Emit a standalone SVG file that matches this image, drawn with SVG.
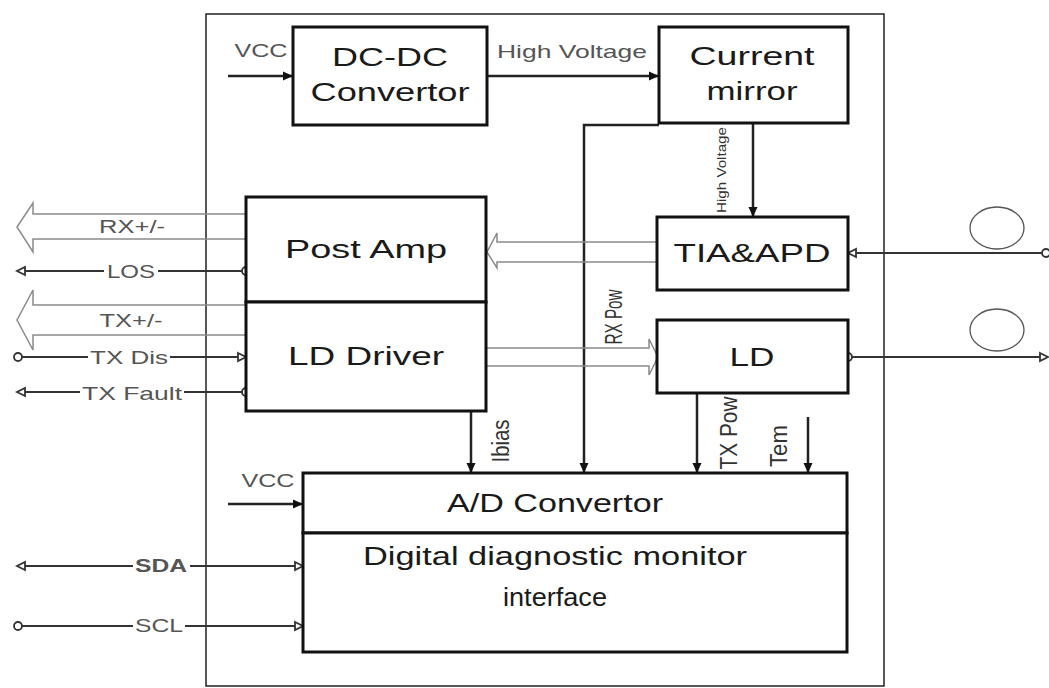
<svg xmlns="http://www.w3.org/2000/svg" width="1049" height="688" viewBox="0 0 1049 688">
<style>
.box{fill:#fff;stroke:#111;stroke-width:3}
.frame{fill:none;stroke:#222;stroke-width:1.5}
.w{stroke:#222;stroke-width:2.5;fill:none}
.s{stroke:#333;stroke-width:1.8;fill:none}
.h{stroke:#8a8a8a;stroke-width:1.5;fill:none}
.t{font-family:"Liberation Sans",Arial,sans-serif;fill:#1a1a1a;font-size:26px;text-anchor:middle}
.l{font-family:"Liberation Sans",Arial,sans-serif;fill:#555;font-size:19px;text-anchor:middle}
.v{font-family:"Liberation Sans",Arial,sans-serif;fill:#333;text-anchor:middle}
</style>
<defs>
<marker id="arr" markerUnits="userSpaceOnUse" markerWidth="11" markerHeight="10" refX="10" refY="5" orient="auto"><path d="M0,0.5 L10,5 L0,9.5 z" fill="#111"/></marker>
<marker id="otri" markerUnits="userSpaceOnUse" markerWidth="12" markerHeight="12" refX="10" refY="6" orient="auto-start-reverse"><path d="M2,2 L10,6 L2,10 z" fill="#fff" stroke="#333" stroke-width="1.8"/></marker>
<marker id="dot" markerUnits="userSpaceOnUse" markerWidth="12" markerHeight="12" refX="6" refY="6" orient="auto"><circle cx="6" cy="6" r="4" fill="#fff" stroke="#333" stroke-width="1.8"/></marker>
</defs>

<rect id="frame" class="frame" x="206" y="14" width="678" height="672"/>

<g id="connectors">
  <!-- top -->
  <line class="w" x1="228" y1="76" x2="293" y2="76" marker-end="url(#arr)"/>
  <line class="w" x1="487" y1="76" x2="659" y2="76" marker-end="url(#arr)"/>
  <polyline class="w" points="659,125 584,125 584,473" marker-end="url(#arr)"/>
  <line class="w" x1="753" y1="123" x2="753" y2="217" marker-end="url(#arr)"/>
  <!-- down to A/D -->
  <line class="w" x1="471" y1="411" x2="471" y2="473" marker-end="url(#arr)"/>
  <line class="w" x1="697" y1="393" x2="697" y2="473" marker-end="url(#arr)"/>
  <line class="w" x1="808" y1="417" x2="808" y2="473" marker-end="url(#arr)"/>
  <line class="w" x1="228" y1="504" x2="303" y2="504" marker-end="url(#arr)"/>
  <!-- hollow bus arrows -->
  <polyline class="h" points="246,214 33,214 33,203 17,227 33,252 33,239 246,239"/>
  <polyline class="h" points="246,305 33,305 33,290 17,320 33,350 33,335 246,335"/>
  <polyline class="h" points="657,242 497,242 497,233 487,252 497,268 497,262 657,262"/>
  <polyline class="h" points="486,348 649,348 649,339 658,357 649,375 649,366 486,366"/>
  <!-- left signals (broken around labels) -->
  <line class="s" x1="246" y1="271" x2="158" y2="271" marker-start="url(#dot)"/>
  <line class="s" x1="104" y1="271" x2="17" y2="271" marker-end="url(#otri)"/>
  <line class="s" x1="18" y1="357" x2="88" y2="357" marker-start="url(#dot)"/>
  <line class="s" x1="170" y1="357" x2="246" y2="357" marker-end="url(#otri)"/>
  <line class="s" x1="246" y1="392" x2="184" y2="392" marker-start="url(#dot)"/>
  <line class="s" x1="80" y1="392" x2="17" y2="392" marker-end="url(#otri)"/>
  <line class="s" x1="133" y1="566" x2="17" y2="566" marker-end="url(#otri)"/>
  <line class="s" x1="190" y1="566" x2="303" y2="566" marker-end="url(#otri)"/>
  <line class="s" x1="18" y1="626" x2="133" y2="626" marker-start="url(#dot)"/>
  <line class="s" x1="185" y1="626" x2="303" y2="626" marker-end="url(#otri)"/>
  <!-- right signals -->
  <line class="s" x1="1046" y1="253" x2="848" y2="253" marker-start="url(#dot)" marker-end="url(#otri)"/>
  <line class="s" x1="848" y1="357" x2="1048" y2="357" marker-start="url(#dot)" marker-end="url(#otri)"/>
  <!-- labels -->
  <text class="l" x="261" y="57" font-size="14" textLength="53" lengthAdjust="spacingAndGlyphs">VCC</text>
  <text class="l" x="572" y="58" font-size="16" textLength="150" lengthAdjust="spacingAndGlyphs">High Voltage</text>
  <text class="v" font-size="13" transform="translate(726,170) rotate(-90)" textLength="86" lengthAdjust="spacingAndGlyphs">High Voltage</text>
  <text class="v" font-size="24" fill="#444" transform="translate(622,317) rotate(-90)" textLength="55" lengthAdjust="spacingAndGlyphs">RX Pow</text>
  <text class="v" font-size="23" fill="#444" transform="translate(509,441) rotate(-90)" textLength="43" lengthAdjust="spacingAndGlyphs">Ibias</text>
  <text class="v" font-size="24" fill="#444" transform="translate(737,433) rotate(-90)" textLength="73" lengthAdjust="spacingAndGlyphs">TX Pow</text>
  <text class="v" font-size="24" fill="#444" transform="translate(787,446) rotate(-90)" textLength="42" lengthAdjust="spacingAndGlyphs">Tem</text>
  <text class="l" x="132" y="233" font-size="18" textLength="66" lengthAdjust="spacingAndGlyphs">RX+/-</text>
  <text class="l" x="131" y="278" textLength="48" lengthAdjust="spacingAndGlyphs">LOS</text>
  <text class="l" x="131" y="327" font-size="18" textLength="63" lengthAdjust="spacingAndGlyphs">TX+/-</text>
  <text class="l" x="129" y="364" textLength="78" lengthAdjust="spacingAndGlyphs">TX Dis</text>
  <text class="l" x="132" y="400" textLength="100" lengthAdjust="spacingAndGlyphs">TX Fault</text>
  <text class="l" x="268" y="487" font-size="14" textLength="53" lengthAdjust="spacingAndGlyphs">VCC</text>
  <text class="l" x="161" y="572" font-size="17" font-weight="bold" fill="#333" textLength="52" lengthAdjust="spacingAndGlyphs">SDA</text>
  <text class="l" x="159" y="632" font-size="17" textLength="48" lengthAdjust="spacingAndGlyphs">SCL</text>
</g>

<g id="dcdc">
  <rect class="box" x="293" y="27" width="194" height="98"/>
  <text class="t" x="390" y="66" textLength="116" lengthAdjust="spacingAndGlyphs">DC-DC</text>
  <text class="t" x="390" y="101" textLength="159" lengthAdjust="spacingAndGlyphs">Convertor</text>
</g>
<g id="mirror">
  <rect class="box" x="659" y="27" width="189" height="96"/>
  <text class="t" x="752" y="65" textLength="125" lengthAdjust="spacingAndGlyphs">Current</text>
  <text class="t" x="752" y="100" textLength="91" lengthAdjust="spacingAndGlyphs">mirror</text>
</g>
<g id="tia">
  <rect class="box" x="657" y="217" width="191" height="73"/>
  <text class="t" x="752" y="262" textLength="157" lengthAdjust="spacingAndGlyphs">TIA&amp;APD</text>
</g>
<g id="ld">
  <rect class="box" x="657" y="320" width="191" height="73"/>
  <text class="t" x="752" y="366" textLength="45" lengthAdjust="spacingAndGlyphs">LD</text>
</g>
<g id="postamp">
  <rect class="box" x="246" y="197" width="240" height="105"/>
  <text class="t" x="366" y="258" textLength="162" lengthAdjust="spacingAndGlyphs">Post Amp</text>
</g>
<g id="lddriver">
  <rect class="box" x="246" y="302" width="240" height="109"/>
  <text class="t" x="366" y="365" textLength="156" lengthAdjust="spacingAndGlyphs">LD Driver</text>
</g>
<g id="adc">
  <rect class="box" x="303" y="473" width="544" height="60"/>
  <text class="t" x="555" y="512" textLength="216" lengthAdjust="spacingAndGlyphs">A/D Convertor</text>
</g>
<g id="ddm">
  <rect class="box" x="303" y="533" width="544" height="119"/>
  <text class="t" x="555" y="565" font-size="25" textLength="384" lengthAdjust="spacingAndGlyphs">Digital diagnostic monitor</text>
  <text class="t" x="555" y="606" font-size="26" textLength="104" lengthAdjust="spacingAndGlyphs">interface</text>
</g>
<g id="fibers">
  <ellipse cx="997" cy="228" rx="27" ry="21" fill="none" stroke="#555" stroke-width="1.3"/>
  <ellipse cx="997" cy="330" rx="27" ry="21" fill="none" stroke="#555" stroke-width="1.3"/>
</g>
</svg>
